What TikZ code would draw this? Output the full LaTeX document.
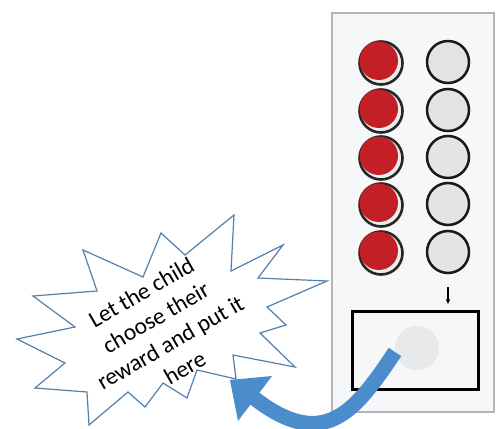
\documentclass[tikz,border=0pt]{standalone}
\usepackage{fontspec}
\setmainfont{Carlito}
\usetikzlibrary{arrows.meta}
\definecolor{cardfill}{RGB}{246,247,249}
\definecolor{cardedge}{RGB}{178,180,184}
\definecolor{btnred}{RGB}{196,30,38}
\definecolor{padgray}{RGB}{226,228,230}
\definecolor{starblue}{RGB}{84,128,172}
\definecolor{arrowblue}{RGB}{74,140,204}
\tikzset{
  redbtn/.style={fill=btnred, draw=none},
  redring/.style={draw=black!85, line width=2.6pt, fill=gray!15},
  graypad/.style={draw=black!90, line width=2.5pt, fill=padgray},
  starstyle/.style={draw=starblue, line width=1.2pt, fill=white, line join=miter},
}
\begin{document}
\begin{tikzpicture}[x=1pt,y=-1pt]
\useasboundingbox (0,0) rectangle (502,428);
\fill[white] (0,0) rectangle (502,428);
% card
\draw[cardedge, line width=1.6pt, fill=cardfill] (332,13) rectangle (494,412);
% red buttons and gray pads
\foreach \i/\y in {1/62,2/110,3/157,4/204,5/252}{
  \draw[redring] (381,\y+1) circle (21.5);
  \fill[redbtn] (378.8,\y-1.2) circle (19.2);
  \draw[graypad] (448,\y) circle (21);
}
\coordinate (a1) at (448,287);
\coordinate (a2) at (448,304);
\draw[line width=1.1pt, -{Stealth[length=5pt,width=4.5pt]}] (a1) -- (a2);
% reward box
\draw[black, line width=3pt] (352,311) rectangle (478,389);
\fill[padgray!80] (417,348) circle (22);
% starburst
\draw[starstyle] (234,215) -- (231,271) -- (283,245) -- (258,278) -- (327,281)
  -- (267,307) -- (286,325) -- (260,333) -- (295,367) -- (233,355) -- (236,379)
  -- (197,370) -- (187,398) -- (163,383) -- (145,407) -- (128,392) -- (89,425)
  -- (87,392) -- (35,388) -- (65,363) -- (17,339) -- (75,327) -- (33,296)
  -- (97,291) -- (83,250) -- (143,277) -- (161,233) -- (185,255) -- cycle;
\node[rotate=30, align=center, font=\fontsize{23.5}{29}\selectfont, inner sep=0pt]
  (txt) at (163,330) {Let the child\\choose their\\reward and put it\\here};
% blue arrow
\coordinate (s0) at (395,352);
\coordinate (s1) at (254,398);
\draw[arrowblue, line width=15pt, line cap=butt] (s0) .. controls (356,410) and (325,453) .. (s1);
\fill[arrowblue] (230,380) -- (272,376) -- (238,421) -- cycle;
\end{tikzpicture}
\end{document}
